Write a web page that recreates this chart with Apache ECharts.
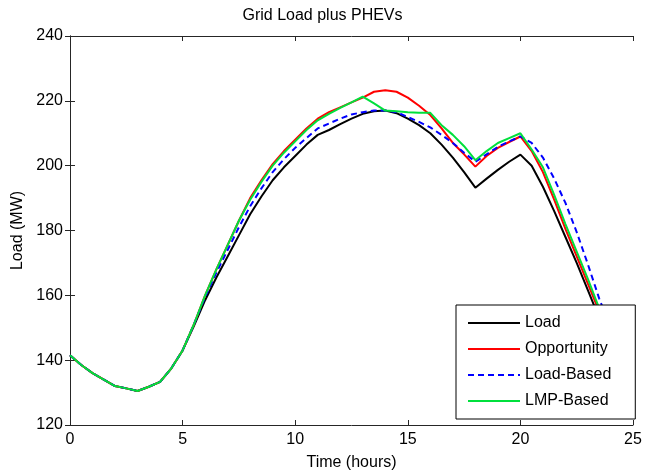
<!DOCTYPE html>
<html>
<head>
<meta charset="utf-8">
<script src="https://cdn.jsdelivr.net/npm/echarts@6/dist/echarts.min.js"></script>
<style>html,body{margin:0;padding:0;background:#fff;}#c{width:645px;height:472px;}</style>
</head>
<body>
<div id="c"></div>
<script>
var titleText = 'Grid Load plus PHEVs';
var xName = 'Time (hours)';
var yName = 'Load (MW)';
var seriesNames = ['Load', 'Opportunity', 'Load-Based', 'LMP-Based'];
var hours = [0,0.5,1,1.5,2,2.5,3,3.5,4,4.5,5,5.5,6,6.5,7,7.5,8,8.5,9,9.5,10,10.5,11,11.5,12,12.5,13,13.5,14,14.5,15,15.5,16,16.5,17,17.5,18,18.5,19,19.5,20,20.5,21,21.5,22,22.5,23,23.5,24];
var loadVals = [141.5,138.5,136,134,132,131.3,130.5,131.8,133.3,137.5,143,150.5,158.5,165.5,172,178.5,185,190.5,195.5,199.5,203,206.5,209.5,211,212.8,214.5,216,216.8,217,216.2,214.5,212.5,210,206.5,202.5,198,193.2,196,198.7,201.2,203.4,200,193.5,186,178,170,161.5,153,145];
var opportunityVals = [141.5,138.5,136,134,132,131.3,130.5,131.8,133.3,137.5,143,151,160,168,175.5,183,190,195.5,200.5,204.5,208,211.5,214.5,216.5,218,219.5,221,222.8,223.3,222.8,221,218.5,215.6,211.5,207,203.5,199.7,203,205.5,207.3,209,204.5,198,189.5,180.5,172,163.5,155,147];
var loadBasedVals = [141.5,138.5,136,134,132,131.3,130.5,131.8,133.3,137.5,143,151,159.5,167,174,181,187.5,193,198,202,205.5,208.5,211.5,213,214.5,215.8,216.5,217,217,216.5,215,213.5,211.8,209.5,207,204,201.2,203.5,205.8,207.5,209,207,202.5,196,188.5,179.5,169.5,159,150];
var lmpBasedVals = [141.5,138.5,136,134,132,131.3,130.5,131.8,133.3,137.5,143,151,160,168,175.5,183,189.5,195,200,204,207.5,211,214,216,217.8,219.5,221.3,219.2,217,216.8,216.5,216.3,216.3,212.5,209.5,206,201.7,204.5,207,208.5,210,205,199.5,191,182,173.5,165,156,148];
var xTicks = {min: 0, max: 25, interval: 5};
var yTicks = {min: 120, max: 240, interval: 20};

function pairs(xs, ys) { return xs.map(function (x, i) { return [x, ys[i]]; }); }

var FONT = 'Liberation Sans, Arial, sans-serif';
var axisCommon = {
  axisLine: {lineStyle: {color: '#262626', width: 1}},
  axisTick: {inside: true, length: 5, lineStyle: {color: '#262626'}},
  splitLine: {show: false}
};
function lineSeries(name, vals, color, type) {
  return {
    name: name, type: 'line', data: pairs(hours, vals),
    symbol: 'none', showSymbol: false, animation: false,
    lineStyle: {color: color, width: 2, type: type || 'solid'},
    itemStyle: {color: color}
  };
}
var chart = echarts.init(document.getElementById('c'));
chart.setOption({
  animation: false,
  backgroundColor: '#fff',
  title: {text: titleText, left: 'center', top: 3, textStyle: {fontFamily: FONT, fontSize: 16, fontWeight: 'normal', color: '#000'}},
  grid: {left: 70, right: 12, top: 36, bottom: 47, containLabel: false, outerBoundsMode: 'none'},
  xAxis: [
    Object.assign({type: 'value', min: xTicks.min, max: xTicks.max, interval: xTicks.interval,
      name: xName, nameLocation: 'middle', nameGap: 30,
      nameTextStyle: {fontFamily: FONT, fontSize: 16, color: '#000'},
      axisLabel: {fontFamily: FONT, fontSize: 16, color: '#000', margin: 7}}, axisCommon),
    Object.assign({type: 'value', position: 'top', min: xTicks.min, max: xTicks.max, interval: xTicks.interval,
      axisLabel: {show: false}}, axisCommon)
  ],
  yAxis: [
    Object.assign({type: 'value', min: yTicks.min, max: yTicks.max, interval: yTicks.interval,
      name: yName, nameLocation: 'middle', nameGap: 39,
      nameTextStyle: {fontFamily: FONT, fontSize: 16, color: '#000'},
      axisLabel: {fontFamily: FONT, fontSize: 16, color: '#000', margin: 7}}, axisCommon),
    Object.assign({type: 'value', position: 'right', min: yTicks.min, max: yTicks.max, interval: yTicks.interval,
      axisLabel: {show: false}}, axisCommon)
  ],
  legend: {
    orient: 'vertical', left: 456, top: 305,
    padding: [10, 24, 10, 11], itemGap: 10, itemWidth: 52, itemHeight: 14,
    backgroundColor: '#fff', borderColor: '#000', borderWidth: 1,
    itemStyle: {opacity: 0},
    textStyle: {fontFamily: FONT, fontSize: 16, color: '#000'},
    data: seriesNames
  },
  series: [
    lineSeries(seriesNames[0], loadVals, '#000000'),
    lineSeries(seriesNames[1], opportunityVals, '#ff0000'),
    lineSeries(seriesNames[2], loadBasedVals, '#0000ff', [6, 4]),
    lineSeries(seriesNames[3], lmpBasedVals, '#00e03c')
  ]
});
</script>
</body>
</html>
